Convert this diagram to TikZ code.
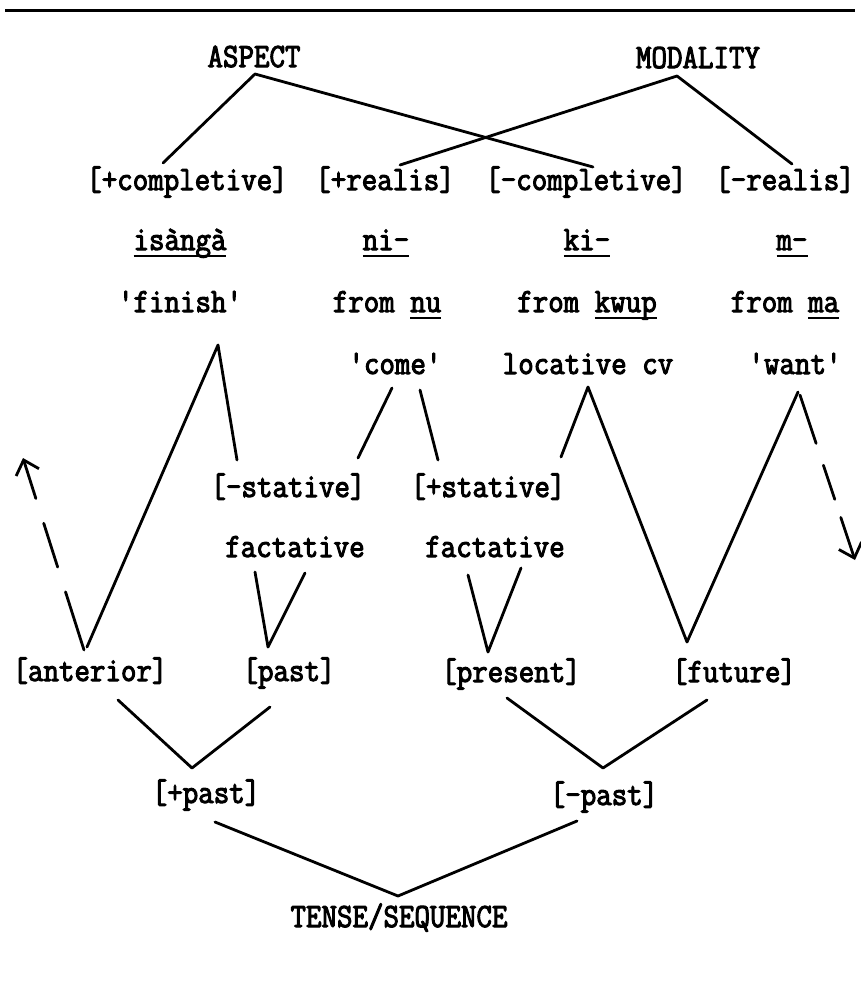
\documentclass[tikz,border=0pt]{standalone}
\usepackage{fontspec}
\setmonofont{Latin Modern Mono}[FakeStretch=0.885,FakeBold=3]
\usetikzlibrary{calc,arrows.meta}
\newcommand\ulx[1]{\setbox0=\hbox{#1}\rlap{\vrule height -5pt depth 7pt width \wd0}\box0}
\begin{document}
\begin{tikzpicture}[x=1pt,y=-1pt,
  txt/.style={inner sep=0pt, outer sep=0pt, anchor=base, font=\ttfamily\fontsize{34}{40}\selectfont},
  ln/.style={line width=2.8pt, line cap=round, line join=round},
  barb/.style={-{Straight Barb[length=13pt,width=24pt]}}]
\useasboundingbox (0,0) rectangle (860,991);
% top rule
\draw[line width=3pt] (5,10) -- (855,10);
% nodes
\node[txt] (aspect)   at (254,67)  {ASPECT};
\node[txt] (modality) at (698,68)  {MODALITY};
\node[txt] (pcomp)    at (187,190) {[+completive]};
\node[txt] (preal)    at (385,190) {[+realis]};
\node[txt] (mcomp)    at (586,190) {[-completive]};
\node[txt] (mreal)    at (785,190) {[-realis]};
\node[txt] (isanga)   at (180,250) {\ulx{isàngà}};
\node[txt] (ni)       at (386,250) {\ulx{ni-}};
\node[txt] (ki)       at (587,250) {\ulx{ki-}};
\node[txt] (m)        at (792,250) {\ulx{m-}};
\node[txt] (finish)   at (180,312) {'finish'};
\node[txt] (fromnu)   at (387,312) {from \ulx{nu}};
\node[txt] (fromkwup) at (587,312) {from \ulx{kwup}};
\node[txt] (fromma)   at (785,312) {from \ulx{ma}};
\node[txt] (come)     at (395,374) {'come'};
\node[txt] (locative) at (588,374) {locative cv};
\node[txt] (want)     at (795,374) {'want'};
\node[txt] (mstat)    at (288,497) {[-stative]};
\node[txt] (pstat)    at (488,497) {[+stative]};
\node[txt] (factA)    at (295,557) {factative};
\node[txt] (factB)    at (495,557) {factative};
\node[txt] (anterior) at (90,681)  {[anterior]};
\node[txt] (past)     at (289,681) {[past]};
\node[txt] (present)  at (511,682) {[present]};
\node[txt] (future)   at (734,682) {[future]};
\node[txt] (ppast)    at (206,803) {[+past]};
\node[txt] (mpast)    at (604,805) {[-past]};
\node[txt] (tense)    at (399,927) {TENSE/SEQUENCE};
% connectors
\draw[ln] ($(pcomp.base)+(-24,-27)$) -- ($(aspect.base)+(1,7)$) -- ($(mcomp.base)+(7,-23)$);
\draw[ln] ($(preal.base)+(15,-25)$) -- ($(modality.base)+(-21,8)$) -- ($(mreal.base)+(7,-26)$);
\draw[ln] ($(anterior.base)+(-3,-34)$) -- ($(finish.base)+(38,33)$) -- ($(mstat.base)+(-51,-37)$);
\draw[ln] ($(come.base)+(-3,14)$) -- ($(mstat.base)+(70,-39)$);
\draw[ln] ($(come.base)+(25,16)$) -- ($(pstat.base)+(-50,-37)$);
\draw[ln] ($(pstat.base)+(73,-40)$) -- ($(locative.base)+(0,13)$) -- ($(future.base)+(-47,-40)$) -- ($(want.base)+(3,18)$);
\draw[ln] ($(factA.base)+(-40,15)$) -- ($(past.base)+(-21,-34)$) -- ($(factA.base)+(10,16)$);
\draw[ln] ($(factB.base)+(-27,18)$) -- ($(present.base)+(-23,-30)$) -- ($(factB.base)+(26,11)$);
\draw[ln] ($(anterior.base)+(28,19)$) -- ($(ppast.base)+(-14,-35)$) -- ($(past.base)+(-19,26)$);
\draw[ln] ($(present.base)+(-4,16)$) -- ($(mpast.base)+(-1,-37)$) -- ($(future.base)+(-27,18)$);
\draw[ln] ($(ppast.base)+(9,19)$) -- ($(tense.base)+(-1,-31)$) -- ($(mpast.base)+(-27,16)$);
% dashed arrows
\coordinate (lefttip) at ($(anterior.base)+(-67,-223)$);
\coordinate (righttip) at ($(want.base)+(60,186)$);
\draw[ln, barb, dash pattern=on 61pt off 26pt on 46pt off 26pt on 80pt] ($(anterior.base)+(-6,-31)$) -- (lefttip);
\draw[ln, barb, dash pattern=on 51pt off 23pt on 36pt off 19pt on 80pt] ($(want.base)+(5,21)$) -- (righttip);
\end{tikzpicture}
\end{document}
